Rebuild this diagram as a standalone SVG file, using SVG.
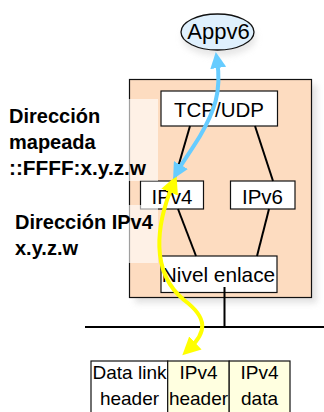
<svg xmlns="http://www.w3.org/2000/svg" width="324" height="412" viewBox="0 0 324 412">
<defs>
<style>
.box{fill:#ffffff;stroke:#111;stroke-width:1.2}
.t{font-family:"Liberation Sans",Arial,sans-serif;fill:#000;text-anchor:middle}
.lbl{font-family:"Liberation Sans",Arial,sans-serif;font-weight:bold;font-size:20px;fill:#000}
.ln{stroke:#000;stroke-width:2;fill:none}
.ov{fill:#ffffff;opacity:0.6}
</style>
<filter id="sh" x="-20%" y="-20%" width="150%" height="150%">
<feGaussianBlur stdDeviation="3"/>
</filter>
<marker id="ab" markerWidth="4" markerHeight="4" refX="2" refY="2" orient="auto-start-reverse" markerUnits="strokeWidth">
<path d="M0,0 L4,2 L0,4 z" fill="#66ccff"/>
</marker>
<marker id="ay" markerWidth="4.5" markerHeight="4.5" refX="2.2" refY="2.25" orient="auto-start-reverse" markerUnits="strokeWidth">
<path d="M0,0 L4.5,2.25 L0,4.5 z" fill="#ffff00"/>
</marker>
</defs>
<rect width="324" height="412" fill="#ffffff"/>

<g id="host">
<rect x="135" y="85" width="182" height="218" fill="#cfcfcf" opacity="0.6" filter="url(#sh)"/>
<rect x="129.5" y="79.5" width="182" height="218" fill="#fddcc0" stroke="#111" stroke-width="1.2"/>
</g>

<g id="appv6">
<ellipse cx="219" cy="38" rx="37" ry="18" fill="#cfcfcf" opacity="0.5" filter="url(#sh)"/>
<ellipse cx="217.5" cy="32" rx="36.5" ry="18" fill="#dff0fd" stroke="#111" stroke-width="1.3"/>
<text class="t" x="218.5" y="39" font-size="22">Appv6</text>
</g>

<g id="tcpudp">
<rect class="box" x="161" y="91" width="116.5" height="35"/>
<text class="t" x="219" y="116.5" font-size="20.5">TCP/UDP</text>
</g>

<g id="ipv4">
<rect class="box" x="140.5" y="181" width="63" height="28"/>
<text class="t" x="172" y="203.5" font-size="20.5">IPv4</text>
</g>

<g id="ipv6">
<rect class="box" x="230.5" y="181" width="64.5" height="28"/>
<text class="t" x="262.5" y="203.5" font-size="20.5">IPv6</text>
</g>

<g id="enlace">
<rect class="box" x="161" y="256" width="116" height="36.5"/>
<text class="t" x="218.5" y="281.5" font-size="20.8">Nivel enlace</text>
</g>

<g id="overlays">
<rect class="ov" x="0" y="99" width="158" height="82"/>
<rect class="ov" x="0" y="205" width="158" height="58"/>
</g>

<g id="label-mapeada">
<text class="lbl" x="9" y="123">Dirección</text>
<text class="lbl" x="9" y="149">mapeada</text>
<text class="lbl" x="9" y="175" font-weight="normal" textLength="137" lengthAdjust="spacingAndGlyphs">::FFFF:x.y.z.w</text>
</g>

<g id="label-ipv4">
<text class="lbl" x="15" y="229">Dirección IPv4</text>
<text class="lbl" x="15" y="255">x.y.z.w</text>
</g>

<g id="frame">
<rect x="91" y="361" width="76.7" height="60" fill="#ffffff" stroke="#111" stroke-width="1.2"/>
<rect x="167.7" y="361" width="61.5" height="60" fill="#ffffe0" stroke="#111" stroke-width="1.2"/>
<rect x="229.2" y="361" width="60.8" height="60" fill="#ffffe0" stroke="#111" stroke-width="1.2"/>
<text class="t" x="129.5" y="379" font-size="19">Data link</text>
<text class="t" x="129.5" y="404.5" font-size="19">header</text>
<text class="t" x="198.5" y="379" font-size="19">IPv4</text>
<text class="t" x="198.5" y="404.5" font-size="19">header</text>
<text class="t" x="259.5" y="379" font-size="19">IPv4</text>
<text class="t" x="259.5" y="404.5" font-size="19">data</text>
</g>

<g id="connectors">
<line class="ln" x1="190" y1="126" x2="174" y2="181"/>
<line class="ln" x1="255" y1="126" x2="273" y2="181"/>
<line class="ln" x1="178" y1="209" x2="196" y2="256"/>
<line class="ln" x1="269" y1="209" x2="257" y2="256"/>
<line class="ln" x1="224.5" y1="287" x2="224.5" y2="327"/>
<line x1="85" y1="327" x2="324" y2="327" stroke="#000" stroke-width="2.2"/>
<path d="M173,184 C156,225 150,272 184,300 C208,318 207,332 189,349" fill="none" stroke="#ffff00" stroke-width="4" marker-start="url(#ay)" marker-end="url(#ay)"/>
<path d="M217,60 C222,92 214,112 200,136 C189,154 182,163 177,172" fill="none" stroke="#66ccff" stroke-width="4" marker-start="url(#ab)" marker-end="url(#ab)"/>
</g>
</svg>
